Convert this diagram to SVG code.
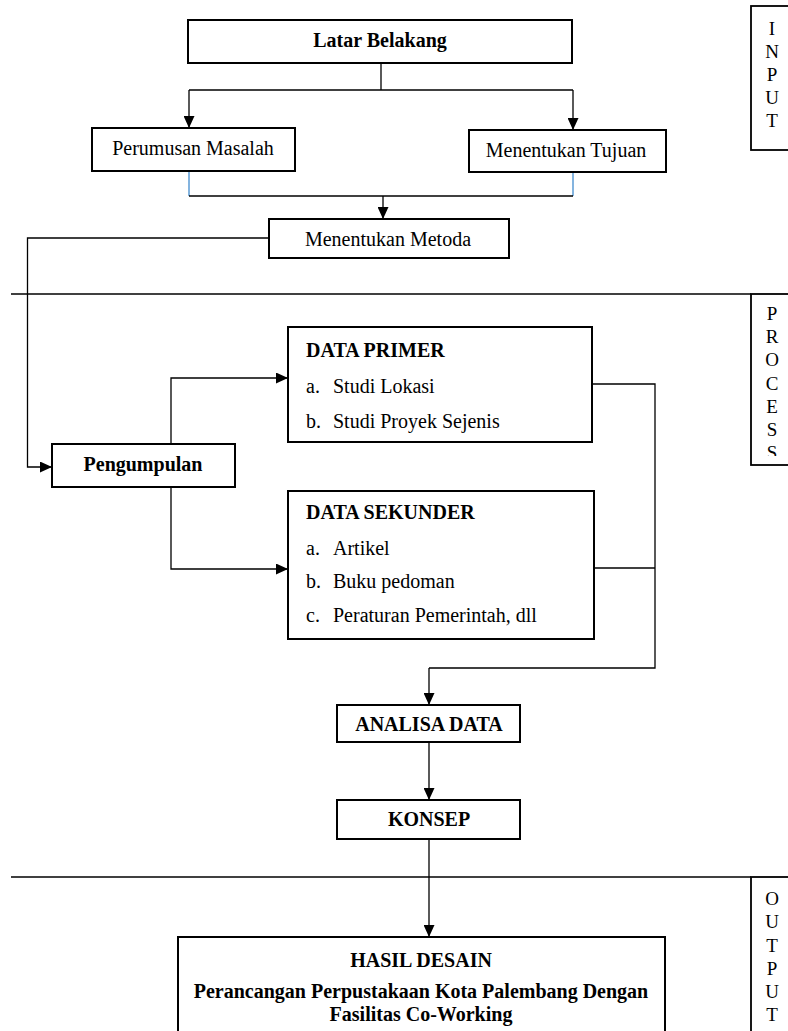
<svg xmlns="http://www.w3.org/2000/svg" width="788" height="1031" viewBox="0 0 788 1031">
<style>
text{font-family:"Liberation Serif","Times New Roman",serif;font-size:20px;fill:#000}
.b{font-weight:bold}
.m{text-anchor:middle}
.side{font-size:19px;text-anchor:middle}
.box{fill:#fff;stroke:#000;stroke-width:2}
.sbox{fill:none;stroke:#000;stroke-width:1.8}
.ln{fill:none;stroke:#000;stroke-width:1.3}
.blue{fill:none;stroke:#5B9BD5;stroke-width:1.5}
.arr{marker-end:url(#ah)}
</style>
<defs>
<marker id="ah" markerUnits="userSpaceOnUse" markerWidth="12" markerHeight="11" refX="12" refY="5.5" orient="auto">
<path d="M0,0 L12,5.5 L0,11 Z" fill="#000"/>
</marker>
<clipPath id="pclip"><rect x="751" y="294" width="40" height="162"/></clipPath>
</defs>

<g id="connectors">
<path class="ln" d="M381,63 V90"/>
<path class="ln" d="M189,90 H573"/>
<path class="ln arr" d="M189,90 V128"/>
<path class="ln arr" d="M573,90 V130"/>
<path class="blue" d="M189,172 V196"/>
<path class="blue" d="M573,172 V196"/>
<path class="ln" d="M189,196 H573"/>
<path class="ln arr" d="M383,196 V219"/>
<path class="ln arr" d="M269,238 H27.5 V467 H52"/>
<path class="ln arr" d="M171,444 V378 H288"/>
<path class="ln arr" d="M171,487 V569 H288"/>
<path class="ln" d="M592,384 H655 V668 H429"/>
<path class="ln" d="M594,568 H655"/>
<path class="ln arr" d="M429,668 V705"/>
<path class="ln arr" d="M429,742 V800"/>
<path class="ln arr" d="M429,839 V937"/>
<path class="ln" d="M11,294 H751"/>
<path class="ln" d="M11,877 H751"/>
</g>

<g id="latar-belakang">
<rect class="box" x="188" y="20" width="384" height="43"/>
<text class="b m" x="380" y="47">Latar Belakang</text>
</g>
<g id="perumusan-masalah">
<rect class="box" x="92" y="128" width="203" height="43"/>
<text class="m" x="193" y="155">Perumusan Masalah</text>
</g>
<g id="menentukan-tujuan">
<rect class="box" x="469" y="130" width="197" height="42"/>
<text class="m" x="566" y="157">Menentukan Tujuan</text>
</g>
<g id="menentukan-metoda">
<rect class="box" x="269" y="219" width="240" height="39"/>
<text class="m" x="388" y="246">Menentukan Metoda</text>
</g>
<g id="pengumpulan">
<rect class="box" x="52" y="444" width="183" height="43"/>
<text class="b m" x="143" y="471">Pengumpulan</text>
</g>
<g id="data-primer">
<rect class="box" x="288" y="327" width="304" height="115"/>
<text class="b" x="306" y="357">DATA PRIMER</text>
<text x="306" y="393">a.</text><text x="333" y="393">Studi Lokasi</text>
<text x="306" y="428">b.</text><text x="333" y="428">Studi Proyek Sejenis</text>
</g>
<g id="data-sekunder">
<rect class="box" x="288" y="491" width="306" height="148"/>
<text class="b" x="306" y="519">DATA SEKUNDER</text>
<text x="306" y="555">a.</text><text x="333" y="555">Artikel</text>
<text x="306" y="588">b.</text><text x="333" y="588">Buku pedoman</text>
<text x="306" y="622">c.</text><text x="333" y="622">Peraturan Pemerintah, dll</text>
</g>
<g id="analisa-data">
<rect class="box" x="337" y="705" width="183" height="37"/>
<text class="b m" x="429" y="731">ANALISA DATA</text>
</g>
<g id="konsep">
<rect class="box" x="337" y="800" width="183" height="39"/>
<text class="b m" x="429" y="826">KONSEP</text>
</g>
<g id="hasil-desain">
<rect class="box" x="178" y="937" width="487" height="110"/>
<text class="b m" x="421" y="967">HASIL DESAIN</text>
<text class="b m" x="421" y="998">Perancangan Perpustakaan Kota Palembang Dengan</text>
<text class="b m" x="421" y="1021">Fasilitas Co-Working</text>
</g>

<g id="input-label">
<rect class="sbox" x="751" y="6" width="50" height="144"/>
<text class="side" x="772" y="35">I</text>
<text class="side" x="772" y="58">N</text>
<text class="side" x="772" y="81">P</text>
<text class="side" x="772" y="104">U</text>
<text class="side" x="772" y="127">T</text>
</g>
<g id="process-label">
<rect class="sbox" x="751" y="294" width="50" height="171"/>
<g clip-path="url(#pclip)">
<text class="side" x="772" y="320">P</text>
<text class="side" x="772" y="343">R</text>
<text class="side" x="772" y="366">O</text>
<text class="side" x="772" y="390">C</text>
<text class="side" x="772" y="413">E</text>
<text class="side" x="772" y="436">S</text>
<text class="side" x="772" y="459">S</text>
</g>
</g>
<g id="output-label">
<rect class="sbox" x="751" y="877" width="50" height="170"/>
<text class="side" x="772" y="905">O</text>
<text class="side" x="772" y="928">U</text>
<text class="side" x="772" y="952">T</text>
<text class="side" x="772" y="975">P</text>
<text class="side" x="772" y="998">U</text>
<text class="side" x="772" y="1021">T</text>
</g>
</svg>
